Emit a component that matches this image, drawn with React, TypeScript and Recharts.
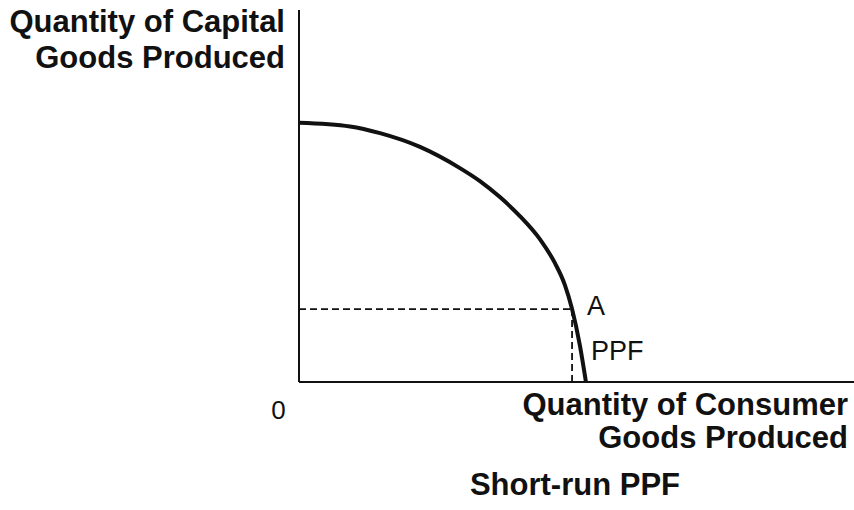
import { LineChart, Line, XAxis, YAxis, ReferenceLine, ReferenceDot } from "recharts"

// PPF curve (x: consumer goods, y: capital goods)
const consumerGoods = [0, 9.2, 14.6, 21.8, 29.0, 32.6, 36.2, 39.8, 43.4, 46.1, 47.9, 49.2, 50.6, 51.7]
const capitalGoods = [69.7, 68.7, 66.9, 63.2, 57.5, 54.0, 49.7, 44.6, 38.4, 32.0, 26.1, 19.6, 9.9, 0]

// point A on the frontier
const pointA = { x: 49.2, y: 19.6 }

const yTitle = ["Quantity of Capital", "Goods Produced"]
const xTitle = ["Quantity of Consumer", "Goods Produced"]
const caption = "Short-run PPF"

const data = consumerGoods.map((x, i) => ({ x, y: capitalGoods[i] }))

const INK = "#111"
const FONT = "'Liberation Sans', Arial, Helvetica, sans-serif"

export default function App() {
  return (
    <div style={{ position: "absolute", left: 0, top: 0, width: 854, height: 510, background: "#fff" }}>
      <LineChart width={854} height={510} data={data} margin={{ top: 10, right: 0, left: 298, bottom: 127 }}>
        <XAxis
          dataKey="x"
          type="number"
          domain={[0, 100]}
          height={1}
          tick={false}
          tickLine={false}
          axisLine={{ stroke: INK, strokeWidth: 2 }}
        />
        <YAxis
          dataKey="y"
          type="number"
          domain={[0, 100]}
          width={1}
          tick={false}
          tickLine={false}
          axisLine={{ stroke: INK, strokeWidth: 2 }}
        />
        <ReferenceLine
          segment={[{ x: 0, y: pointA.y }, { x: pointA.x, y: pointA.y }]}
          stroke={INK}
          strokeWidth={1.8}
          strokeDasharray="7 4"
        />
        <ReferenceLine
          segment={[{ x: pointA.x, y: 0 }, { x: pointA.x, y: pointA.y }]}
          stroke={INK}
          strokeWidth={1.8}
          strokeDasharray="7 4"
        />
        <Line
          type="monotone"
          dataKey="y"
          stroke={INK}
          strokeWidth={4}
          dot={false}
          activeDot={false}
          isAnimationActive={false}
        />
        <ReferenceDot
          x={pointA.x}
          y={pointA.y}
          r={0}
          stroke="none"
          label={{
            content: () => (
              <g fontFamily={FONT} fill={INK}>
                <text x={587} y={315} fontSize={27} fill={INK}>
                  A
                </text>
                <text x={591} y={360} fontSize={27} fill={INK}>
                  PPF
                </text>
                <text x={285} y={32} textAnchor="end" fontSize={31} fontWeight="bold" fill={INK}>
                  {yTitle[0]}
                </text>
                <text x={285} y={68} textAnchor="end" fontSize={31} fontWeight="bold" fill={INK}>
                  {yTitle[1]}
                </text>
                <text x={848} y={415} textAnchor="end" fontSize={31} fontWeight="bold" fill={INK}>
                  {xTitle[0]}
                </text>
                <text x={848} y={448} textAnchor="end" fontSize={31} fontWeight="bold" fill={INK}>
                  {xTitle[1]}
                </text>
                <text x={278.5} y={419} textAnchor="middle" fontSize={26} fill={INK}>
                  0
                </text>
                <text x={575} y={495} textAnchor="middle" fontSize={31} fontWeight="bold" fill={INK}>
                  {caption}
                </text>
              </g>
            ),
          }}
        />
      </LineChart>
    </div>
  )
}
